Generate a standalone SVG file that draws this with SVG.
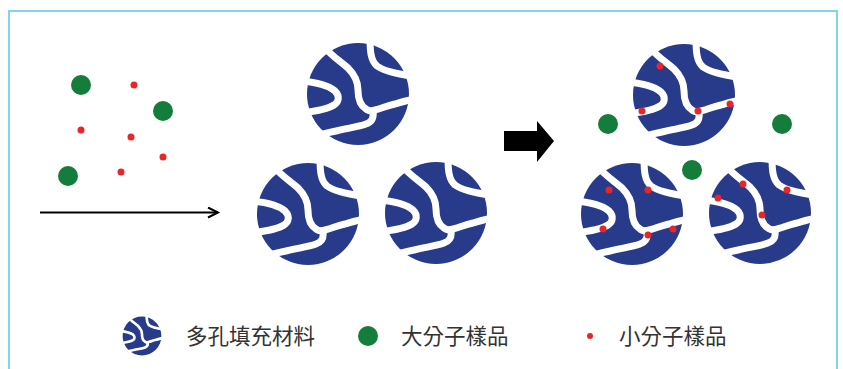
<svg xmlns="http://www.w3.org/2000/svg" width="843" height="369" viewBox="0 0 843 369">
  <style>
    .frame { fill: none; stroke: #80d4ee; stroke-width: 2; }
    .disc { fill: #283a8a; }
    .chan { fill: none; stroke: #ffffff; stroke-width: 7; stroke-linecap: round; stroke-linejoin: round; }
    .big { fill: #157d3c; }
    .small { fill: #e8252a; }
    .label { font-family: "Noto Sans CJK TC", "Noto Sans CJK SC", sans-serif; font-size: 21.5px; fill: #333333; }
  </style>
  <defs>
    <!-- porous filler particle, centred on 0,0, radius 51 -->
    <g id="pore">
      <circle class="disc" r="51"/>
      <g class="chan">
        <path d="M-33,-46 C-26,-38 -18,-33 -10,-26 C-4,-20 0,-13 0,-4 C0,5 3,12 8,15 C10,17 12,17 15,17"/>
        <path d="M13,17 C22,15 28,12 37,10 C44,8 50,6 57,5"/>
        <path d="M15,17 C16,24 14,28 8,30 C0,33 -10,34 -22,37 C-32,39 -40,41 -48,44"/>
        <path d="M12,-56 C12,-42 13,-33 19,-28 C26,-23 36,-21 57,-17"/>
        <path d="M-57,-13 C-44,-12 -30,-9 -23,-3 C-18,2 -19,8 -24,11 C-30,15 -40,17 -57,19"/>
      </g>
    </g>
    <marker id="open-head" markerWidth="14" markerHeight="14" refX="11" refY="6" orient="auto" markerUnits="userSpaceOnUse">
      <path d="M1,1 L11,6 L1,11" fill="none" stroke="#000" stroke-width="2"/>
    </marker>
  </defs>

  <rect width="843" height="369" fill="#ffffff"/>
  <path class="frame" d="M9,380 V11 H837 V380"/>

  <!-- mixed sample before separation -->
  <g id="sample">
    <circle class="big" cx="81" cy="85" r="10"/>
    <circle class="big" cx="163" cy="111" r="10"/>
    <circle class="big" cx="68" cy="176" r="10"/>
    <circle class="small" cx="134" cy="85" r="3.5"/>
    <circle class="small" cx="81" cy="130" r="3.5"/>
    <circle class="small" cx="131" cy="137" r="3.5"/>
    <circle class="small" cx="163" cy="157" r="3.5"/>
    <circle class="small" cx="121" cy="172" r="3.5"/>
  </g>

  <!-- packed porous particles -->
  <g id="bed-left">
    <use href="#pore" transform="translate(358,94)"/>
    <use href="#pore" transform="translate(308,214)"/>
    <use href="#pore" transform="translate(436,213)"/>
  </g>

  <!-- particles after separation: small molecules held in channels -->
  <g id="bed-right">
    <use href="#pore" transform="translate(684,95)"/>
    <use href="#pore" transform="translate(632,214)"/>
    <use href="#pore" transform="translate(760,213)"/>
    <circle class="small" cx="660" cy="66" r="3.5"/>
    <circle class="small" cx="642" cy="111" r="3.5"/>
    <circle class="small" cx="698" cy="111" r="3.5"/>
    <circle class="small" cx="730" cy="104" r="3.5"/>
    <circle class="small" cx="609" cy="190" r="3.5"/>
    <circle class="small" cx="648" cy="190" r="3.5"/>
    <circle class="small" cx="603" cy="229" r="3.5"/>
    <circle class="small" cx="648" cy="235" r="3.5"/>
    <circle class="small" cx="673" cy="229" r="3.5"/>
    <circle class="small" cx="743" cy="184" r="3.5"/>
    <circle class="small" cx="787" cy="190" r="3.5"/>
    <circle class="small" cx="718" cy="198" r="3.5"/>
    <circle class="small" cx="762" cy="215" r="3.5"/>
    <circle class="big" cx="608" cy="124" r="10"/>
    <circle class="big" cx="782" cy="124" r="10"/>
    <circle class="big" cx="692" cy="170" r="10"/>
  </g>

  <g id="connectors">
    <line x1="40" y1="212.5" x2="218" y2="212.5" stroke="#000" stroke-width="2" marker-end="url(#open-head)"/>
    <polygon points="504,131 537,131 537,121 554,141 537,162 537,151 504,151" fill="#000"/>
  </g>

  <!-- legend -->
  <g id="legend">
    <use href="#pore" transform="translate(142,336) scale(0.38)"/>
    <text class="label" x="186" y="344">多孔填充材料</text>
    <circle class="big" cx="368" cy="336" r="10"/>
    <text class="label" x="401" y="344">大分子樣品</text>
    <circle class="small" cx="590" cy="336" r="3"/>
    <text class="label" x="619" y="344">小分子樣品</text>
  </g>
</svg>
